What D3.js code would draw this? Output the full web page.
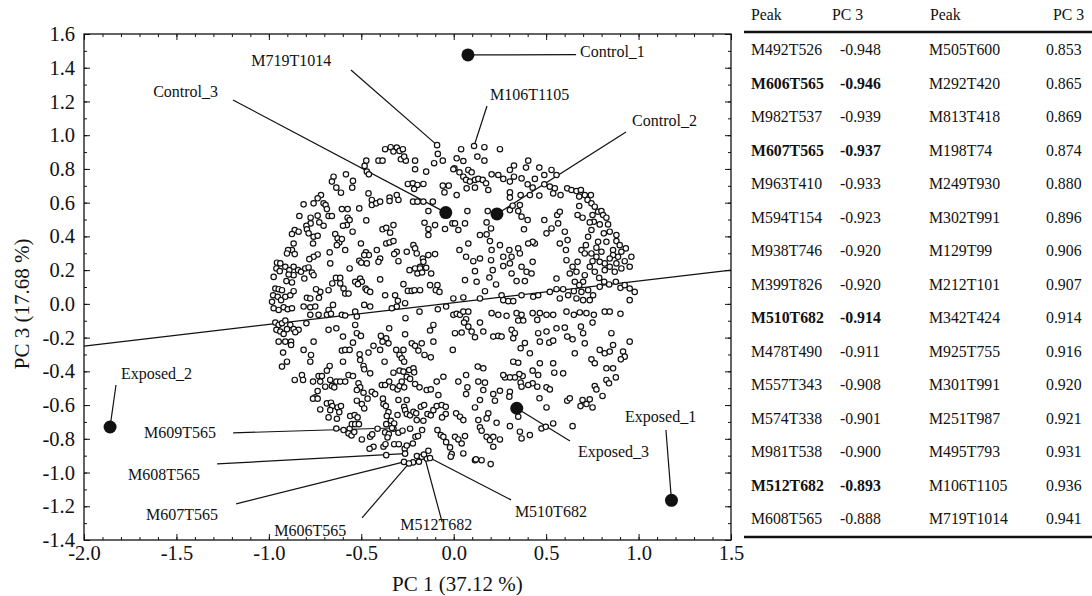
<!DOCTYPE html>
<html>
<head>
<meta charset="utf-8">
<script src="https://cdn.jsdelivr.net/npm/d3@7"></script>
<style>
  body { margin: 0; background: #fff; }
  svg text { font-family: "Liberation Serif", "Times New Roman", serif; fill: #111; }
</style>
</head>
<body>
<svg id="chart-svg" width="1092" height="596"></svg>
<script>
// ---- data ----
const xTicks = [-2.0, -1.5, -1.0, -0.5, 0.0, 0.5, 1.0, 1.5];
const yTicks = [-1.4, -1.2, -1.0, -0.8, -0.6, -0.4, -0.2, 0.0, 0.2, 0.4, 0.6, 0.8, 1.0, 1.2, 1.4, 1.6];

// regression line (PC1, PC3 at both ends)
const regPC1 = [-2.0, 1.5];
const regPC3 = [-0.25, 0.20];

// sample scores
const sampleNames = ['Control_1', 'Control_2', 'Control_3', 'Exposed_1', 'Exposed_2', 'Exposed_3'];
const samplePC1 = [0.077, 0.234, -0.043, 1.178, -1.859, 0.341];
const samplePC3 = [1.476, 0.533, 0.541, -1.165, -0.730, -0.619];
// where each sample label sits, and where its leader line starts (data units)
const sampleLabelAt = [[0.683, 1.462], [0.965, 1.055], [-1.626, 1.226], [0.927, -0.700], [-1.800, -0.445], [0.672, -0.907]];
const sampleLeadFrom = [[0.662, 1.478], [0.932, 1.019], [-1.194, 1.209], [1.148, -0.748], [-1.827, -0.481], [0.629, -0.813]];

// highlighted peaks (loadings)
const peakNames = ['M719T1014', 'M106T1105', 'M609T565', 'M608T565', 'M607T565', 'M606T565', 'M512T682', 'M510T682'];
const peakPC1 = [-0.090, 0.110, -0.334, -0.263, -0.269, -0.242, -0.161, -0.128];
const peakPC3 = [0.941, 0.936, -0.736, -0.888, -0.937, -0.946, -0.893, -0.914];
const peakLabelAt = [[-1.095, 1.410], [0.196, 1.209], [-1.675, -0.795], [-1.762, -1.044], [-1.665, -1.281], [-0.971, -1.376], [-0.289, -1.341], [0.331, -1.263]];
const peakLeadFrom = [[-0.556, 1.387], [0.180, 1.173], [-1.193, -0.765], [-1.280, -0.949], [-1.177, -1.186], [-0.496, -1.269], [-0.063, -1.293], [0.310, -1.162]];

// all other loadings [PC1, PC3]
const loadings = [
  [-0.371,0.917],[-0.341,0.929],[-0.326,0.903],[-0.308,0.927],[-0.293,0.907],[-0.275,0.917],[-0.086,0.889],[-0.059,0.849],[-0.106,0.834],
  [-0.473,0.849],[-0.407,0.849],[-0.385,0.849],[-0.286,0.857],[-0.259,0.849],[-0.268,0.873],[-0.209,0.849],
  [-0.482,0.818],[-0.470,0.784],[-0.459,0.768],[-0.209,0.798],[-0.149,0.784],[0.004,0.804],
  [-0.650,0.754],[-0.583,0.768],[-0.545,0.729],[-0.659,0.725],[-0.635,0.689],[-0.610,0.659],[-0.549,0.689],
  [-0.248,0.711],[-0.221,0.715],[-0.196,0.705],[-0.164,0.711],[-0.214,0.681],[-0.059,0.701],[-0.027,0.701],[-0.050,0.661],
  [-0.461,0.655],[-0.718,0.645],[-0.736,0.626],[-0.758,0.596],[-0.704,0.596],[-0.812,0.590],
  [-0.443,0.616],[-0.443,0.586],[-0.419,0.596],[-0.398,0.606],[-0.347,0.630],[-0.347,0.610],[-0.308,0.645],[-0.299,0.616],
  [-0.220,0.606],[-0.196,0.606],[-0.164,0.606],[-0.113,0.606],[-0.137,0.550],
  [-0.693,0.586],[-0.686,0.562],[-0.677,0.521],[-0.659,0.521],[-0.605,0.562],[-0.574,0.562],[-0.511,0.566],
  [-0.835,0.521],[-0.774,0.511],[-0.736,0.523],[-0.727,0.483],[-0.704,0.463],[-0.774,0.477],[-0.797,0.463],
  [-0.860,0.438],[-0.839,0.428],[-0.875,0.414],[-0.794,0.442],[-0.785,0.418],[-0.758,0.398],[-0.736,0.404],
  [-0.574,0.511],[-0.563,0.497],[-0.578,0.467],[-0.599,0.463],[-0.473,0.495],[-0.547,0.428],
  [-0.158,0.481],[-0.137,0.444],[-0.137,0.408],[-0.101,0.467],[-0.047,0.444],[-0.007,0.477],
  [-0.385,0.442],[-0.365,0.451],[-0.326,0.467],[-0.344,0.422],
  [-0.641,0.414],[-0.628,0.388],[-0.619,0.364],[-0.632,0.348],[-0.605,0.384],[-0.587,0.319],
  [-0.761,0.358],[-0.866,0.358],[-0.875,0.319],[-0.896,0.319],[-0.902,0.299],[-0.860,0.295],
  [-0.502,0.358],[-0.475,0.305],[-0.459,0.289],[-0.484,0.289],[-0.416,0.319],[-0.398,0.269],[-0.407,0.249],
  [-0.365,0.358],[-0.347,0.364],[-0.326,0.372],[-0.308,0.309],[-0.322,0.295],
  [-0.218,0.348],[-0.209,0.329],[-0.254,0.309],[-0.200,0.299],[-0.167,0.269],[-0.137,0.289],[-0.101,0.295],[-0.164,0.249],[-0.182,0.220],
  [-0.671,0.305],[-0.668,0.240],[-0.736,0.293],[-0.758,0.279],[-0.781,0.265],
  [-0.956,0.244],[-0.938,0.240],[-0.959,0.210],[-0.941,0.194],[-0.911,0.220],[-0.889,0.200],[-0.866,0.220],[-0.842,0.200],[-0.826,0.190],
  [-0.803,0.210],[-0.785,0.216],[-0.767,0.186],[-0.758,0.170],[-0.808,0.150],[-0.866,0.170],[-0.893,0.174],[-0.905,0.135],[-0.875,0.127],[-0.974,0.160],
  [-0.563,0.210],[-0.511,0.255],[-0.500,0.244],[-0.470,0.240],[-0.299,0.253],
  [-0.239,0.200],[-0.209,0.210],[-0.196,0.180],[-0.182,0.210],[-0.171,0.186],[-0.149,0.214],[-0.122,0.180],
  [-0.506,0.150],[-0.497,0.131],[-0.533,0.131],[-0.518,0.117],[-0.477,0.091],[-0.470,0.081],[-0.452,0.071],[-0.398,0.145],
  [-0.637,0.154],[-0.614,0.154],[-0.657,0.121],[-0.614,0.121],[-0.596,0.091],[-0.587,0.061],[-0.569,0.061],
  [-0.677,0.081],[-0.722,0.071],[-0.729,0.036],[-0.745,0.087],[-0.794,0.036],[-0.776,0.032],
  [-0.272,0.117],[-0.248,0.077],[-0.227,0.077],[-0.212,0.081],[-0.182,0.081],[-0.128,0.111],[-0.088,0.111],[-0.097,0.081],[-0.077,0.071],
  [-0.371,0.051],[-0.317,0.051],[-0.302,0.018],
  [-0.965,0.091],[-0.947,0.087],[-0.929,0.081],[-0.977,0.051],[-0.952,0.042],[-0.934,0.022],[-0.911,0.042],[-0.884,0.051],[-0.866,0.075],[-0.983,0.012],
  [0.040,0.917],[0.166,0.929],[0.250,0.917],[0.128,0.873],[0.016,0.863],[0.052,0.847],[0.166,0.849],[0.403,0.849],
  [-0.002,0.798],[0.031,0.780],[0.052,0.754],[0.079,0.794],[0.097,0.780],[0.067,0.735],[0.088,0.725],[0.115,0.735],[0.133,0.741],[0.157,0.735],
  [0.175,0.715],[0.205,0.768],[0.241,0.764],[0.268,0.741],[0.304,0.794],[0.326,0.820],[0.391,0.808],[0.463,0.808],[0.529,0.794],[0.556,0.764],
  [0.490,0.764],[0.326,0.754],[0.367,0.744],[0.439,0.741],[0.400,0.709],[0.304,0.725],[0.490,0.709],[0.520,0.695],[0.547,0.685],[0.427,0.689],
  [0.016,0.645],[0.070,0.685],[0.115,0.689],[0.187,0.675],[0.304,0.661],[0.304,0.630],[0.362,0.645],[0.412,0.645],[0.463,0.642],[0.538,0.655],
  [0.578,0.645],[0.614,0.685],[0.637,0.675],[0.664,0.669],[0.688,0.675],[0.709,0.645],[0.742,0.645],[0.679,0.636],[0.724,0.616],[0.745,0.596],
  [0.763,0.576],[0.781,0.546],[0.679,0.580],[0.670,0.527],[0.697,0.511],[0.751,0.527],[0.799,0.550],[0.808,0.527],[0.758,0.487],[0.790,0.471],
  [0.835,0.471],[0.826,0.511],[0.812,0.418],[0.844,0.428],[0.880,0.372],[0.898,0.348],[0.931,0.329],[0.961,0.279],[0.952,0.220],[0.925,0.253],
  [0.889,0.279],[0.907,0.309],[0.862,0.319],[0.862,0.289],[0.844,0.269],[0.880,0.240],[0.907,0.210],[0.871,0.190],[0.844,0.220],[0.817,0.240],
  [0.817,0.200],[0.790,0.249],
  [0.736,0.483],[0.745,0.438],[0.727,0.398],[0.715,0.348],[0.691,0.319],[0.709,0.299],[0.745,0.299],[0.781,0.368],[0.772,0.333],[0.799,0.309],
  [0.772,0.279],[0.751,0.253],[0.736,0.220],[0.763,0.190],[0.787,0.154],[0.814,0.131],[0.790,0.101],[0.841,0.115],[0.877,0.131],[0.902,0.095],
  [0.925,0.111],[0.952,0.091],[0.979,0.071],[0.952,0.022],
  [0.709,0.170],[0.700,0.131],[0.679,0.111],[0.655,0.131],[0.650,0.075],[0.691,0.071],[0.727,0.081],[0.754,0.051],[0.736,0.022],[0.700,0.022],
  [0.664,0.032],[0.619,0.051],[0.592,0.087],[0.556,0.087],[0.520,0.071],[0.574,0.032],
  [0.643,0.220],[0.610,0.259],[0.607,0.319],[0.616,0.378],[0.574,0.358],[0.601,0.428],[0.565,0.477],[0.560,0.527],[0.574,0.546],[0.529,0.447],
  [0.502,0.418],[0.490,0.497],
  [0.556,0.150],[0.628,0.180],[0.664,0.190],[0.670,0.249],[0.439,0.358],[0.427,0.368],[0.380,0.442],[0.400,0.497],[0.367,0.517],[0.304,0.556],
  [0.349,0.550],[0.358,0.586],[0.319,0.582],[0.184,0.550],[0.074,0.550],
  [0.007,0.477],[0.025,0.438],[0.061,0.477],[0.178,0.483],[0.202,0.447],[0.178,0.412],[0.142,0.408],[0.079,0.358],[0.031,0.319],[0.067,0.279],
  [0.106,0.253],[0.115,0.194],[0.142,0.269],[0.196,0.372],[0.205,0.319],[0.250,0.348],[0.202,0.259],[0.211,0.200],[0.268,0.279],[0.301,0.319],
  [0.313,0.279],[0.304,0.240],[0.349,0.329],[0.358,0.299],[0.403,0.358],[0.427,0.249],[0.367,0.220],[0.394,0.190],[0.421,0.180],[0.385,0.135],
  [0.340,0.135],[0.313,0.180],[0.268,0.224],[0.229,0.115],[0.193,0.156],[0.169,0.075],[0.124,0.131],[0.061,0.141],
  [-0.002,0.032],[0.052,0.038],[0.142,0.032],[0.259,0.051],[0.268,0.022],[0.295,0.016],[0.322,0.016],[0.367,0.051],[0.430,0.042],[0.457,0.051],
  [0.826,0.368],[0.880,0.408],
  [-0.974,-0.026],[-0.947,-0.036],[-0.920,-0.020],[-0.898,-0.032],[-0.875,-0.026],
  [-0.965,-0.111],[-0.947,-0.125],[-0.929,-0.115],[-0.911,-0.099],[-0.884,-0.125],[-0.866,-0.150],[-0.839,-0.154],[-0.857,-0.168],[-0.959,-0.154],
  [-0.938,-0.164],[-0.920,-0.178],[-0.902,-0.150],
  [-0.947,-0.224],[-0.911,-0.224],[-0.880,-0.224],[-0.880,-0.244],[-0.923,-0.289],[-0.929,-0.372],[-0.902,-0.343],
  [-0.812,-0.016],[-0.776,-0.020],[-0.749,-0.016],[-0.776,-0.065],[-0.731,-0.065],[-0.797,-0.115],
  [-0.677,-0.036],[-0.653,-0.006],[-0.686,-0.065],[-0.664,-0.059],[-0.605,-0.065],[-0.587,-0.069],[-0.533,-0.046],[-0.524,-0.075],[-0.484,-0.006],[-0.452,-0.016],
  [-0.308,-0.016],[-0.263,0.004],[-0.335,-0.026],[-0.185,-0.046],[-0.086,-0.032],[-0.041,-0.016],
  [-0.261,-0.085],[-0.110,-0.125],[-0.128,-0.158],[-0.002,-0.065],
  [-0.533,-0.125],[-0.677,-0.154],[-0.635,-0.145],[-0.599,-0.194],[-0.524,-0.174],[-0.502,-0.190],[-0.349,-0.145],
  [-0.758,-0.224],[-0.812,-0.273],[-0.772,-0.303],[-0.776,-0.343],
  [-0.605,-0.277],[-0.587,-0.273],[-0.563,-0.273],[-0.545,-0.230],[-0.509,-0.299],[-0.461,-0.289],
  [-0.263,-0.180],[-0.110,-0.224],[-0.005,-0.273],
  [-0.394,-0.190],[-0.365,-0.204],[-0.353,-0.234],[-0.385,-0.224],
  [-0.434,-0.249],[-0.398,-0.273],[-0.311,-0.273],[-0.272,-0.273],[-0.227,-0.234],[-0.209,-0.249],[-0.173,-0.234],[-0.191,-0.277],[-0.158,-0.303],[-0.124,-0.317],
  [-0.506,-0.333],[-0.488,-0.368],[-0.484,-0.388],[-0.452,-0.412],[-0.599,-0.343],[-0.671,-0.368],[-0.686,-0.396],
  [-0.374,-0.343],[-0.293,-0.303],[-0.281,-0.323],[-0.268,-0.343],
  [-0.860,-0.451],[-0.821,-0.422],[-0.815,-0.451],[-0.761,-0.461],[-0.731,-0.428],[-0.713,-0.428],[-0.722,-0.461],[-0.695,-0.491],[-0.668,-0.451],
  [-0.659,-0.487],[-0.646,-0.495],[-0.635,-0.461],[-0.614,-0.461],[-0.587,-0.461],[-0.569,-0.422],[-0.545,-0.428],
  [-0.515,-0.471],[-0.506,-0.495],[-0.524,-0.511],[-0.488,-0.527],[-0.443,-0.521],[-0.425,-0.535],
  [-0.389,-0.481],[-0.371,-0.481],[-0.349,-0.461],[-0.329,-0.495],[-0.304,-0.507],[-0.293,-0.487],[-0.281,-0.461],[-0.268,-0.495],
  [-0.326,-0.408],[-0.293,-0.396],[-0.272,-0.402],[-0.241,-0.392],[-0.218,-0.382],[-0.214,-0.406],[-0.254,-0.432],[-0.236,-0.445],
  [-0.209,-0.475],[-0.185,-0.495],[-0.146,-0.511],[-0.124,-0.507],[-0.092,-0.461],[-0.056,-0.432],[-0.083,-0.541],
  [-0.736,-0.517],[-0.749,-0.554],[-0.761,-0.562],[-0.736,-0.562],
  [-0.686,-0.590],[-0.664,-0.586],[-0.657,-0.606],[-0.628,-0.614],[-0.610,-0.606],[-0.668,-0.630],[-0.722,-0.626],[-0.619,-0.642],
  [-0.524,-0.574],[-0.497,-0.594],[-0.484,-0.620],[-0.466,-0.562],
  [-0.383,-0.562],[-0.380,-0.594],[-0.367,-0.606],[-0.353,-0.642],[-0.362,-0.665],[-0.340,-0.693],[-0.365,-0.713],[-0.322,-0.709],
  [-0.304,-0.659],[-0.299,-0.570],[-0.254,-0.570],[-0.268,-0.610],[-0.263,-0.630],[-0.254,-0.653],[-0.236,-0.661],[-0.218,-0.640],[-0.203,-0.649],
  [-0.178,-0.610],[-0.160,-0.600],[-0.142,-0.653],[-0.124,-0.661],[-0.110,-0.630],[-0.092,-0.606],[-0.065,-0.600],[-0.043,-0.610],[-0.043,-0.653],[-0.063,-0.673],
  [-0.677,-0.673],[-0.632,-0.681],[-0.560,-0.665],[-0.536,-0.659],[-0.520,-0.673],
  [-0.200,-0.689],[-0.164,-0.693],
  [-0.635,-0.739],[-0.596,-0.748],[-0.563,-0.740],[-0.551,-0.713],[-0.533,-0.713],[-0.513,-0.713],[-0.569,-0.768],[-0.553,-0.780],[-0.538,-0.760],
  [-0.497,-0.804],[-0.452,-0.788],[-0.441,-0.774],[-0.434,-0.847],[-0.455,-0.859],[-0.412,-0.740],
  [-0.371,-0.762],[-0.351,-0.772],[-0.326,-0.740],[-0.299,-0.764],[-0.277,-0.752],[-0.236,-0.740],
  [-0.380,-0.847],[-0.369,-0.832],[-0.358,-0.792],[-0.322,-0.832],[-0.297,-0.832],[-0.265,-0.859],[-0.254,-0.840],[-0.221,-0.828],[-0.207,-0.788],[-0.193,-0.784],
  [-0.088,-0.748],[-0.070,-0.778],[-0.056,-0.788],[-0.041,-0.820],[-0.020,-0.851],[-0.011,-0.891],[-0.171,-0.748],
  [-0.365,-0.897],[-0.220,-0.940],[-0.188,-0.936],[-0.199,-0.902],[-0.137,-0.871],[-0.146,-0.917],[-0.173,-0.907],[-0.016,-0.906],
  [0.016,-0.059],[0.034,-0.065],[0.052,-0.046],[0.079,-0.046],[0.067,-0.091],[0.056,-0.111],[0.079,-0.135],[0.142,-0.111],[0.205,-0.055],[0.241,-0.065],
  [0.286,-0.071],[0.340,-0.055],[0.367,-0.065],[0.349,-0.099],[0.376,-0.099],[0.427,-0.055],[0.466,-0.055],[0.452,-0.095],[0.502,-0.065],[0.538,-0.065],
  [0.610,-0.046],[0.650,-0.065],[0.682,-0.051],[0.718,-0.055],[0.758,-0.065],[0.817,-0.046],[0.844,-0.046],[0.902,-0.059],[0.751,-0.111],
  [0.007,-0.174],[0.043,-0.170],[0.097,-0.164],[0.115,-0.198],[0.160,-0.164],[0.214,-0.194],[0.241,-0.190],[0.259,-0.194],[0.313,-0.154],[0.331,-0.174],
  [0.322,-0.204],[0.385,-0.232],[0.362,-0.263],[0.412,-0.293],[0.457,-0.174],[0.466,-0.224],[0.502,-0.164],[0.517,-0.230],[0.538,-0.218],[0.556,-0.145],
  [0.601,-0.141],[0.614,-0.194],[0.643,-0.210],[0.655,-0.293],[0.688,-0.135],[0.700,-0.174],[0.709,-0.234],[0.745,-0.329],[0.763,-0.352],[0.790,-0.273],
  [0.817,-0.293],[0.844,-0.283],[0.853,-0.174],[0.862,-0.244],[0.916,-0.283],[0.925,-0.313],[0.904,-0.329],[0.952,-0.224],
  [0.826,-0.382],[0.862,-0.382],[0.826,-0.451],[0.840,-0.471],[0.877,-0.436],[0.763,-0.487],[0.772,-0.507],[0.805,-0.546],[0.697,-0.570],[0.736,-0.566],
  [0.751,-0.614],[0.718,-0.594],[0.686,-0.606],[0.614,-0.574],[0.628,-0.560],[0.643,-0.725],
  [0.502,-0.614],[0.464,-0.560],[0.452,-0.491],[0.502,-0.495],[0.520,-0.507],[0.427,-0.471],[0.403,-0.481],[0.362,-0.467],[0.367,-0.491],[0.373,-0.428],
  [0.355,-0.416],[0.331,-0.436],[0.304,-0.436],[0.277,-0.436],[0.268,-0.422],[0.322,-0.343],[0.349,-0.349],[0.427,-0.396],[0.457,-0.422],[0.466,-0.352],
  [0.544,-0.408],[0.592,-0.412],[0.538,-0.352],
  [0.130,-0.372],[0.160,-0.382],[0.133,-0.461],[0.169,-0.467],[0.067,-0.422],[0.025,-0.461],[0.074,-0.495],[0.067,-0.535],[0.160,-0.511],[0.142,-0.570],
  [0.115,-0.614],[0.214,-0.535],[0.250,-0.515],[0.304,-0.521],[0.301,-0.550],[0.223,-0.574],[0.187,-0.649],[0.232,-0.705],[0.304,-0.725],[0.178,-0.679],
  [0.133,-0.689],[0.142,-0.732],[0.151,-0.752],[0.178,-0.788],[0.196,-0.808],[0.214,-0.788],[0.250,-0.804],[0.214,-0.847],[0.349,-0.669],[0.358,-0.758],
  [0.367,-0.798],[0.412,-0.778],[0.475,-0.739],[0.498,-0.729],[0.538,-0.709],
  [0.013,-0.649],[0.034,-0.669],[0.052,-0.689],[0.007,-0.788],[0.025,-0.804],[0.043,-0.828],[0.061,-0.784],[0.052,-0.887],[0.115,-0.927],[0.151,-0.927],
  [0.200,-0.950],[0.120,-0.922]
];

// table of top loadings on PC 3
const negPeaks = ['M492T526', 'M606T565', 'M982T537', 'M607T565', 'M963T410', 'M594T154', 'M938T746', 'M399T826', 'M510T682', 'M478T490', 'M557T343', 'M574T338', 'M981T538', 'M512T682', 'M608T565'];
const negPC3 = ['-0.948', '-0.946', '-0.939', '-0.937', '-0.933', '-0.923', '-0.920', '-0.920', '-0.914', '-0.911', '-0.908', '-0.901', '-0.900', '-0.893', '-0.888'];
const posPeaks = ['M505T600', 'M292T420', 'M813T418', 'M198T74', 'M249T930', 'M302T991', 'M129T99', 'M212T101', 'M342T424', 'M925T755', 'M301T991', 'M251T987', 'M495T793', 'M106T1105', 'M719T1014'];
const posPC3 = ['0.853', '0.865', '0.869', '0.874', '0.880', '0.896', '0.906', '0.907', '0.914', '0.916', '0.920', '0.921', '0.931', '0.936', '0.941'];
const boldPeaks = ['M606T565', 'M607T565', 'M510T682', 'M512T682'];

// ---- drawing ----
const svg = d3.select('#chart-svg');
const plot = {left: 84, right: 731, top: 34, bottom: 540};

const x = d3.scaleLinear().domain([-2.0, 1.5]).range([plot.left, plot.right]);
const y = d3.scaleLinear().domain([-1.4, 1.6]).range([plot.bottom, plot.top]);

const xMinor = d3.range(-20, 16).map(d => d / 10);
const yMinor = d3.range(-14, 17).map(d => d / 10);
const fmt = d => d.toFixed(1);

const axisStyle = g => {
    g.select('.domain').remove();
    g.selectAll('line').attr('stroke', '#111').attr('stroke-width', 1);
    g.selectAll('text').attr('font-size', 20.5).attr('fill', '#111')
        .attr('font-family', '"Liberation Serif", "Times New Roman", serif');
};

// minor ticks on all four sides
svg.append('g').attr('transform', `translate(0,${plot.bottom})`)
    .call(d3.axisBottom(x).tickValues(xMinor).tickSize(-3).tickFormat(''))
    .call(axisStyle);
svg.append('g').attr('transform', `translate(0,${plot.top})`)
    .call(d3.axisTop(x).tickValues(xMinor).tickSize(-3).tickFormat(''))
    .call(axisStyle);
svg.append('g').attr('transform', `translate(${plot.left},0)`)
    .call(d3.axisLeft(y).tickValues(yMinor).tickSize(-3).tickFormat(''))
    .call(axisStyle);
svg.append('g').attr('transform', `translate(${plot.right},0)`)
    .call(d3.axisRight(y).tickValues(yMinor).tickSize(-3).tickFormat(''))
    .call(axisStyle);

// major ticks + labels
svg.append('g').attr('transform', `translate(0,${plot.bottom})`)
    .call(d3.axisBottom(x).tickValues(xTicks).tickSize(-6).tickPadding(5).tickFormat(fmt))
    .call(axisStyle);
svg.append('g').attr('transform', `translate(0,${plot.top})`)
    .call(d3.axisTop(x).tickValues(xTicks).tickSize(-6).tickFormat(''))
    .call(axisStyle);
svg.append('g').attr('transform', `translate(${plot.left},0)`)
    .call(d3.axisLeft(y).tickValues(yTicks).tickSize(-6).tickPadding(9).tickFormat(fmt))
    .call(axisStyle);
svg.append('g').attr('transform', `translate(${plot.right},0)`)
    .call(d3.axisRight(y).tickValues(yTicks).tickSize(-6).tickFormat(''))
    .call(axisStyle);

// frame
svg.append('rect')
    .attr('x', plot.left).attr('y', plot.top)
    .attr('width', plot.right - plot.left).attr('height', plot.bottom - plot.top)
    .attr('fill', 'none').attr('stroke', '#111').attr('stroke-width', 1.3);

// axis titles
svg.append('text')
    .attr('x', x(0.02)).attr('y', 591)
    .attr('text-anchor', 'middle').attr('font-size', 21)
    .text('PC 1 (37.12 %)');
svg.append('text')
    .attr('transform', `translate(29,${y(0.0)}) rotate(-90)`)
    .attr('text-anchor', 'middle').attr('font-size', 21)
    .text('PC 3 (17.68 %)');

// regression line
svg.append('line')
    .attr('x1', x(regPC1[0])).attr('y1', y(regPC3[0]))
    .attr('x2', x(regPC1[1])).attr('y2', y(regPC3[1]))
    .attr('stroke', '#111').attr('stroke-width', 1.2);

// leader lines
const leaderGroup = svg.append('g').attr('stroke', '#111').attr('stroke-width', 1.2);
peakNames.forEach((name, i) => {
    leaderGroup.append('line')
        .attr('x1', x(peakLeadFrom[i][0])).attr('y1', y(peakLeadFrom[i][1]))
        .attr('x2', x(peakPC1[i])).attr('y2', y(peakPC3[i]));
});
sampleNames.forEach((name, i) => {
    leaderGroup.append('line')
        .attr('x1', x(sampleLeadFrom[i][0])).attr('y1', y(sampleLeadFrom[i][1]))
        .attr('x2', x(samplePC1[i])).attr('y2', y(samplePC3[i]));
});

// loadings as small open circles
const peakPoints = peakNames.map((name, i) => [peakPC1[i], peakPC3[i]]);
svg.append('g')
    .selectAll('circle')
    .data(loadings.concat(peakPoints))
    .enter()
    .append('circle')
    .attr('cx', d => x(d[0]))
    .attr('cy', d => y(d[1]))
    .attr('r', 2.7)
    .attr('fill', '#fff')
    .attr('stroke', '#111')
    .attr('stroke-width', 1.2);

// sample scores as filled dots
svg.append('g')
    .selectAll('circle')
    .data(sampleNames)
    .enter()
    .append('circle')
    .attr('cx', (d, i) => x(samplePC1[i]))
    .attr('cy', (d, i) => y(samplePC3[i]))
    .attr('r', 6.5)
    .attr('fill', '#111');

// labels
const labelGroup = svg.append('g').attr('font-size', 16);
peakNames.forEach((name, i) => {
    labelGroup.append('text')
        .attr('x', x(peakLabelAt[i][0])).attr('y', y(peakLabelAt[i][1]))
        .text(name);
});
sampleNames.forEach((name, i) => {
    labelGroup.append('text')
        .attr('x', x(sampleLabelAt[i][0])).attr('y', y(sampleLabelAt[i][1]))
        .text(name);
});

// ---- table ----
const table = svg.append('g').attr('font-size', 15.8);
const colX = [751, 840, 929, 1046];
const headX = [751, 832, 930, 1053];
const rowY = d3.scalePoint().domain(d3.range(negPeaks.length)).range([55, 524]);

['Peak', 'PC 3', 'Peak', 'PC 3'].forEach((h, i) => {
    table.append('text').attr('x', headX[i]).attr('y', 20).text(h);
});
table.append('line').attr('x1', 744).attr('x2', 1092).attr('y1', 32).attr('y2', 32)
    .attr('stroke', '#111').attr('stroke-width', 2.5);
table.append('line').attr('x1', 744).attr('x2', 1092).attr('y1', 537).attr('y2', 537)
    .attr('stroke', '#111').attr('stroke-width', 2.5);

negPeaks.forEach((peak, i) => {
    const weight = boldPeaks.includes(peak) ? 'bold' : 'normal';
    table.append('text').attr('x', colX[0]).attr('y', rowY(i)).attr('font-weight', weight).text(peak);
    table.append('text').attr('x', colX[1]).attr('y', rowY(i)).attr('font-weight', weight).text(negPC3[i]);
    table.append('text').attr('x', colX[2]).attr('y', rowY(i)).text(posPeaks[i]);
    table.append('text').attr('x', colX[3]).attr('y', rowY(i)).text(posPC3[i]);
});
</script>
</body>
</html>
